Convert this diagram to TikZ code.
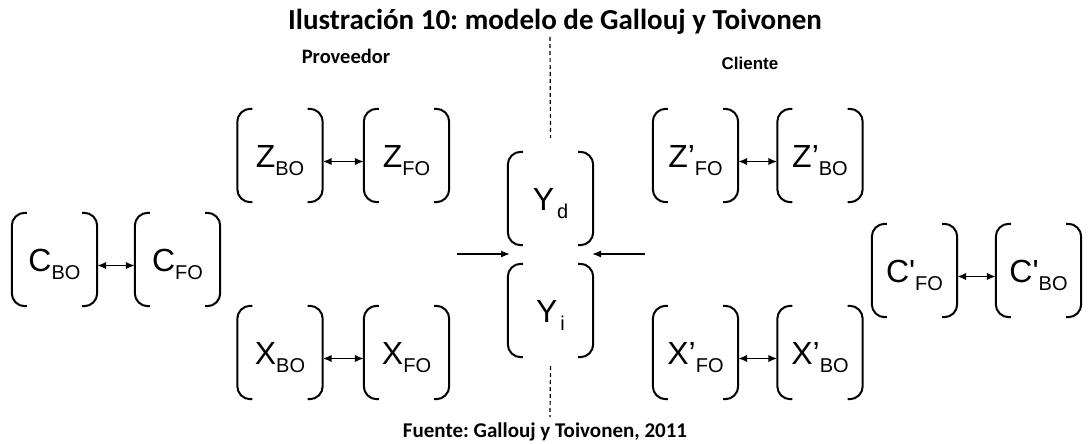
\documentclass[tikz,border=0pt]{standalone}
\usepackage{fontspec}
\setmainfont{Carlito}
\newfontfamily\arialf{Liberation Sans}
\usetikzlibrary{arrows.meta}
\frenchspacing
\newcommand\mainlab[2]{{\arialf\fontsize{32}{32}\selectfont #1}\raisebox{-8pt}{\arialf\fontsize{20}{20}\selectfont #2}}
\newcommand\drawbrk[1]{%
  \draw[brkline] ([xshift=15pt]#1.north west) -- (#1.north west) -- (#1.south west) -- ([xshift=15pt]#1.south west);
  \draw[brkline] ([xshift=-15pt]#1.north east) -- (#1.north east) -- (#1.south east) -- ([xshift=-15pt]#1.south east);}
\begin{document}
\begin{tikzpicture}[x=1pt,y=-1pt,
  bbox/.style={minimum width=85pt,minimum height=93pt,inner sep=0pt,text height=24pt,text depth=0pt},
  brkline/.style={line width=2pt,rounded corners=13pt},
  dbl/.style={line width=1.6pt,{Latex[length=9pt,width=7.5pt]}-{Latex[length=9pt,width=7.5pt]}},
  sarr/.style={line width=1.3pt,-{Latex[length=9pt,width=7pt]}},
  dline/.style={line width=1.2pt,dash pattern=on 4pt off 3pt}]
\useasboundingbox (0,0) rectangle (1088,444);
% titles
\node[font=\bfseries\fontsize{29}{29}\selectfont] (title) at (555,22) {Ilustración 10: modelo de Gallouj y Toivonen};
\node[font=\bfseries\fontsize{20.5}{20.5}\selectfont] (prov) at (346,56) {Proveedor};
\node[font=\arialf\bfseries\fontsize{17}{17}\selectfont] (cli) at (750,63) {Cliente};
\node[font=\bfseries\fontsize{21}{21}\selectfont] (src) at (545,432) {Fuente: Gallouj y Toivonen, 2011};
% boxes
\node[bbox] (cbo) at (54.5,259.5) {\mainlab{C}{BO}};
\node[bbox] (cfo) at (177.5,259.5) {\mainlab{C}{FO}};
\node[bbox] (zbo) at (280,155.5) {\mainlab{Z}{BO}};
\node[bbox] (zfo) at (406.5,155.5) {\mainlab{Z}{FO}};
\node[bbox] (xbo) at (280,352.5) {\mainlab{X}{BO}};
\node[bbox] (xfo) at (406.5,352.5) {\mainlab{X}{FO}};
\node[bbox] (yd) at (550.5,198.5) {\mainlab{Y\hspace{3pt}}{d}};
\node[bbox] (yi) at (550.5,310.5) {\mainlab{Y\hspace{3pt}}{i}};
\node[bbox] (zpfo) at (695.5,155.5) {\mainlab{Z’}{FO}};
\node[bbox] (zpbo) at (820,155.5) {\mainlab{Z’}{BO}};
\node[bbox] (xpfo) at (695.5,352.5) {\mainlab{X’}{FO}};
\node[bbox] (xpbo) at (820,352.5) {\mainlab{X’}{BO}};
\node[bbox] (cpfo) at (914.5,270.5) {\mainlab{C'}{FO}};
\node[bbox] (cpbo) at (1038.5,270.5) {\mainlab{C'}{BO}};
\foreach \n in {cbo,cfo,zbo,zfo,xbo,xfo,yd,yi,zpfo,zpbo,xpfo,xpbo,cpfo,cpbo}{\drawbrk{\n}}
% double arrows
\draw[dbl] ([yshift=-6pt]cbo.east) -- ([yshift=-6pt]cfo.west);
\draw[dbl] ([yshift=-6pt]zbo.east) -- ([yshift=-6pt]zfo.west);
\draw[dbl] ([yshift=-6pt]xbo.east) -- ([yshift=-6pt]xfo.west);
\draw[dbl] ([yshift=-6pt]zpfo.east) -- ([yshift=-6pt]zpbo.west);
\draw[dbl] ([yshift=-6pt]xpfo.east) -- ([yshift=-6pt]xpbo.west);
\draw[dbl] ([yshift=-6pt]cpfo.east) -- ([yshift=-6pt]cpbo.west);
% middle arrows
\coordinate (al1) at (457,254);
\coordinate (al2) at (510,254);
\coordinate (ar1) at (645,254);
\coordinate (ar2) at (592,254);
\draw[sarr] (al1) -- (al2);
\draw[sarr] (ar1) -- (ar2);
% dashed divider
\coordinate (dtop) at (550,37);
\coordinate (dbot) at (550,417);
\draw[dline] (dtop) -- ([yshift=14pt]yd.north);
\draw[dline] ([yshift=-9pt]yi.south) -- (dbot);
\end{tikzpicture}
\end{document}
